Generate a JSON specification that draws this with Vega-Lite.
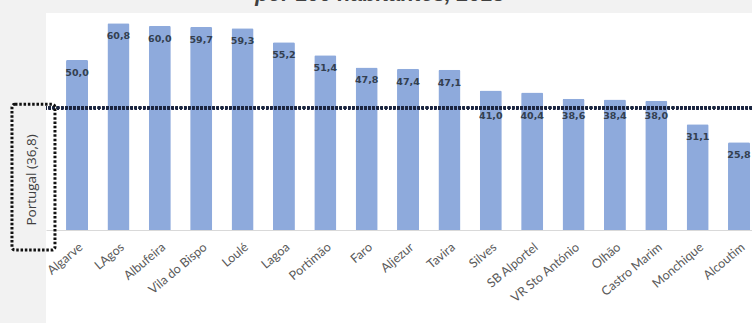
{
  "$schema": "https://vega.github.io/schema/vega-lite/v6.json",
  "autosize": {"type": "none"},
  "padding": {"left": 46, "top": 13, "right": 0, "bottom": 0},
  "width": 706,
  "height": 310,
  "background": "#f2f2f2",
  "title": {
    "text": "por 100 habitantes, 2018",
    "font": "Liberation Sans",
    "fontSize": 21.5,
    "fontWeight": "bold",
    "fontStyle": "italic",
    "color": "#404040",
    "anchor": "middle",
    "frame": "group",
    "baseline": "alphabetic",
    "offset": 0,
    "dy": 9.5,
    "dx": -19
  },
  "config": {
    "view": {"fill": "white", "stroke": null},
    "axis": {"grid": false}
  },
  "layer": [
    {
      "data": {
        "values": [
          {"concelho": "Algarve", "v": 50.0},
          {"concelho": "LAgos", "v": 60.8},
          {"concelho": "Albufeira", "v": 60.0},
          {"concelho": "Vila do Bispo", "v": 59.7},
          {"concelho": "Loulé", "v": 59.3},
          {"concelho": "Lagoa", "v": 55.2},
          {"concelho": "Portimão", "v": 51.4},
          {"concelho": "Faro", "v": 47.8},
          {"concelho": "Aljezur", "v": 47.4},
          {"concelho": "Tavira", "v": 47.1},
          {"concelho": "Silves", "v": 41.0},
          {"concelho": "SB Alportel", "v": 40.4},
          {"concelho": "VR Sto António", "v": 38.6},
          {"concelho": "Olhão", "v": 38.4},
          {"concelho": "Castro Marim", "v": 38.0},
          {"concelho": "Monchique", "v": 31.1},
          {"concelho": "Alcoutim", "v": 25.8}
        ]
      },
      "transform": [
        {"calculate": "replace(format(datum.v, '.1f'), '.', ',')", "as": "lbl"}
      ],
      "encoding": {
        "x": {
          "field": "concelho",
          "type": "nominal",
          "sort": null,
          "scale": {"paddingInner": 0.468, "paddingOuter": 0.266, "align": 0.91},
          "axis": {
            "title": null,
            "offset": -93,
            "domainColor": "#d9d9d9",
            "domainWidth": 1,
            "ticks": false,
            "labelAngle": -40,
            "labelAlign": "right",
            "labelBaseline": "middle",
            "labelPadding": 15,
            "labelOffset": 4,
            "labelFont": "Lato",
            "labelFontSize": 12.5,
            "labelColor": "#595959"
          }
        }
      },
      "layer": [
        {
          "mark": {"type": "bar", "color": "#8eaadc", "cornerRadiusTopLeft": 1.5, "cornerRadiusTopRight": 1.5},
          "encoding": {
            "y": {
              "field": "v",
              "type": "quantitative",
              "scale": {"domain": [-27.35, 63.8], "nice": false, "zero": false},
              "axis": null
            }
          }
        },
        {
          "mark": {"type": "rule", "stroke": "#1c2640", "strokeWidth": 2.6, "strokeDash": [2.2, 1.9]},
          "encoding": {"y": {"datum": 35.9, "type": "quantitative"}, "x": null}
        },
        {
          "transform": [{"filter": "datum.v > 42 || datum.v < 36.8"}],
          "mark": {"type": "text", "font": "DejaVu Sans", "fontWeight": "bold", "fontSize": 9.5, "color": "#333f50", "baseline": "middle", "dy": 13},
          "encoding": {
            "y": {"field": "v", "type": "quantitative"},
            "text": {"field": "lbl"}
          }
        },
        {
          "transform": [{"filter": "datum.v <= 42 && datum.v >= 36.8"}],
          "mark": {"type": "text", "font": "DejaVu Sans", "fontWeight": "bold", "fontSize": 9.5, "color": "#333f50", "baseline": "middle", "dy": 8},
          "encoding": {
            "y": {"datum": 35.9, "type": "quantitative"},
            "text": {"field": "lbl"}
          }
        }
      ]
    },
    {
      "data": {"values": [{"nome": "Portugal (36,8)", "pt": 36.8}]},
      "layer": [
        {
          "mark": {"type": "rect", "fill": null, "stroke": "#111111", "strokeWidth": 3, "strokeDash": [2.5, 1.8], "cornerRadius": 3, "clip": false},
          "encoding": {
            "x": {"datum": -0.0482, "type": "quantitative", "scale": {"domain": [0, 1], "nice": false, "zero": false}, "axis": null},
            "x2": {"datum": 0.0127},
            "y": {"datum": 37.0, "type": "quantitative"},
            "y2": {"datum": -5.9}
          }
        },
        {
          "mark": {"type": "text", "angle": 270, "font": "Open Sans", "fontSize": 13.5, "color": "#404040", "align": "center", "baseline": "middle", "clip": false},
          "encoding": {
            "x": {"datum": -0.0198, "type": "quantitative", "scale": {"domain": [0, 1], "nice": false, "zero": false}, "axis": null},
            "y": {"datum": 14.7, "type": "quantitative"},
            "text": {"field": "nome"}
          }
        }
      ]
    }
  ],
  "resolve": {"scale": {"x": "independent"}}
}
